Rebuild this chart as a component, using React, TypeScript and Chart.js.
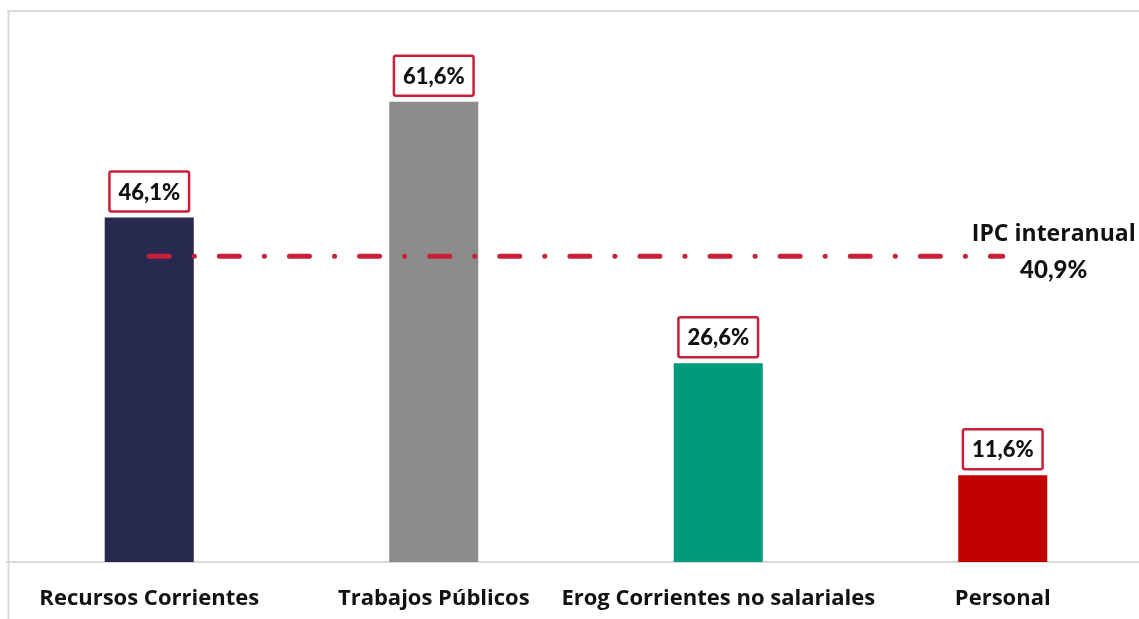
import React, { useEffect, useRef } from "react";
import { Chart, registerables } from "chart.js";

Chart.register(...registerables);

const categories = ["Recursos Corrientes", "Trabajos Públicos", "Erog Corrientes no salariales", "Personal"];
const values = [46.1, 61.6, 26.6, 11.6];
const valueLabels = ["46,1%", "61,6%", "26,6%", "11,6%"];
const barColors = ["#27294F", "#8C8C8C", "#009B7D", "#C00000"];
const ipcValue = 40.9;
const ipcLabelLines = ["IPC interanual", "40,9%"];

const TEXT_FONT = "'Open Sans', Lato, sans-serif";
const NUM_FONT = "Lato, 'Open Sans', sans-serif";
const RED = "#C8203A";

const decorPlugin = {
  id: "decor",
  beforeDraw(chart: any) {
    const ctx = chart.ctx;
    ctx.save();
    ctx.fillStyle = "#D9D9D9";
    ctx.fillRect(7.5, 10, 2, chart.height);
    ctx.fillRect(7.5, 10, chart.width, 2);
    ctx.restore();
  },
  afterDatasetsDraw(chart: any) {
    const ctx = chart.ctx;
    const meta = chart.getDatasetMeta(1);
    ctx.save();
    ctx.textAlign = "center";
    ctx.textBaseline = "middle";
    ctx.font = `900 22px ${NUM_FONT}`;
    meta.data.forEach((bar: any, i: number) => {
      const txt = valueLabels[i];
      const w = ctx.measureText(txt).width + 18;
      const h = 40;
      const x = bar.x - w / 2;
      const y = bar.y - 6 - h;
      ctx.fillStyle = "#FFFFFF";
      ctx.strokeStyle = RED;
      ctx.lineWidth = 2.5;
      ctx.beginPath();
      (ctx as any).roundRect(x, y, w, h, 2);
      ctx.fill();
      ctx.stroke();
      ctx.fillStyle = "#111111";
      ctx.fillText(txt, bar.x, y + h / 2 + 1);
    });
    const yScale = chart.scales.y;
    const xScale = chart.scales.x;
    const yy = yScale.getPixelForValue(ipcValue);
    const xx = xScale.getPixelForValue(categories.length - 1) + 51;
    ctx.fillStyle = "#111111";
    ctx.font = `bold 23px ${TEXT_FONT}`;
    ctx.fillText(ipcLabelLines[0], xx, yy - 22);
    ctx.font = `900 24px ${NUM_FONT}`;
    ctx.fillText(ipcLabelLines[1], xx, yy + 14);
    ctx.restore();
  },
};

export default function App() {
  const ref = useRef<HTMLCanvasElement>(null);
  useEffect(() => {
    if (!ref.current) return;
    const chart = new Chart(ref.current, {
      type: "bar",
      data: {
        labels: categories,
        datasets: [
          {
            type: "line",
            data: categories.map(() => ipcValue),
            borderColor: RED,
            borderWidth: 5,
            borderDash: [20, 25, 0.1, 25],
            borderCapStyle: "round",
            pointRadius: 0,
            fill: false,
            order: 0,
          } as any,
          {
            type: "bar",
            data: values,
            backgroundColor: barColors,
            barPercentage: 0.313,
            categoryPercentage: 1,
            order: 1,
          },
        ],
      },
      options: {
        animation: false,
        responsive: false,
        devicePixelRatio: 1,
        layout: { padding: { left: 7, right: 5, top: 9, bottom: 0 } },
        plugins: { legend: { display: false }, tooltip: { enabled: false } },
        scales: {
          y: { display: false, min: 0, max: 74 },
          x: {
            afterFit: (scale: any) => {
              scale.height = 57;
            },
            grid: { display: false, drawTicks: false },
            border: { display: true, color: "#D9D9D9", width: 2 },
            ticks: {
              padding: 24,
              color: "#111111",
              font: { family: TEXT_FONT, size: 22, weight: "bold" },
              maxRotation: 0,
              autoSkip: false,
            },
          },
        },
      },
      plugins: [decorPlugin],
    });
    return () => chart.destroy();
  }, []);
  return (
    <div style={{ position: "fixed", left: 0, top: 0, width: 1139, height: 619, overflow: "hidden", background: "#fff" }}>
      <canvas ref={ref} width={1150} height={619} style={{ width: 1150, height: 619, display: "block" }} />
    </div>
  );
}
